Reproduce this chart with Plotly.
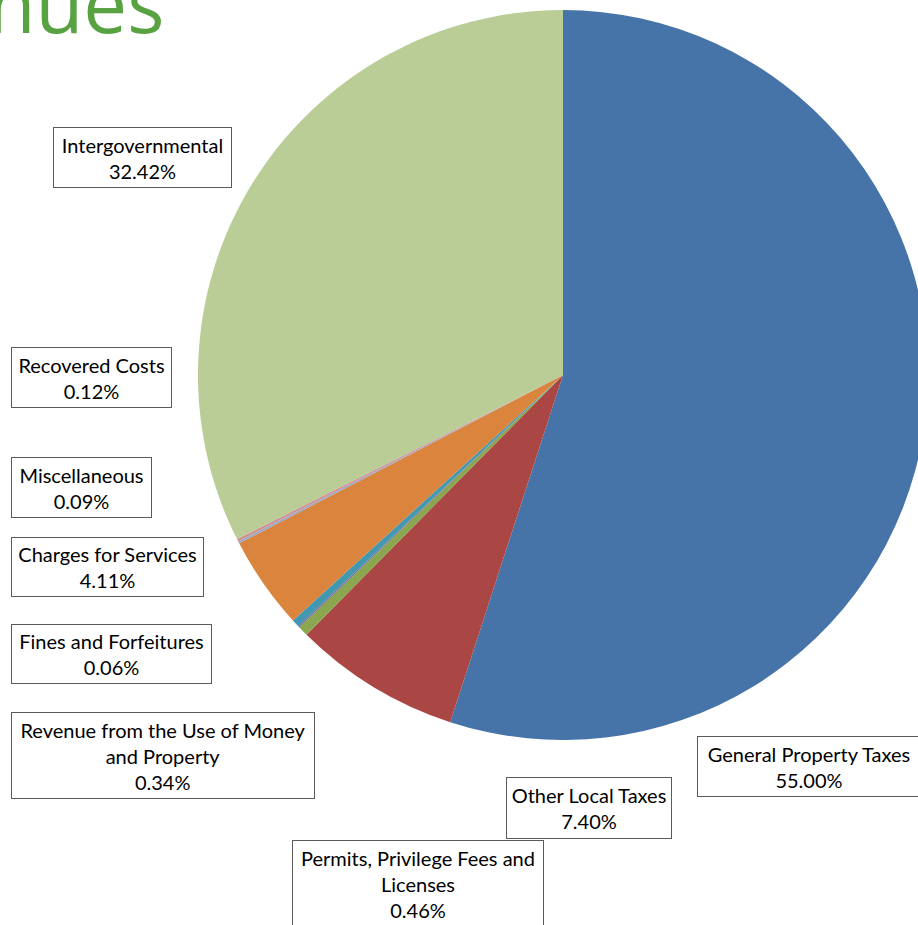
import plotly.graph_objects as go

# ---- data ----
categories = [
    "General Property Taxes",
    "Other Local Taxes",
    "Permits, Privilege Fees and Licenses",
    "Fines and Forfeitures",
    "Revenue from the Use of Money and Property",
    "Charges for Services",
    "Miscellaneous",
    "Recovered Costs",
    "Intergovernmental",
]
shares = [55.00, 7.40, 0.46, 0.06, 0.34, 4.11, 0.09, 0.12, 32.42]
label_lines = [
    "General Property Taxes",
    "Other Local Taxes",
    "Permits, Privilege Fees and<br>Licenses",
    "Fines and Forfeitures",
    "Revenue from the Use of Money<br>and Property",
    "Charges for Services",
    "Miscellaneous",
    "Recovered Costs",
    "Intergovernmental",
]
title_text = "Revenues"

# ---- styling / layout ----
colors = ["#4674A9", "#AA4644", "#8AA64F", "#7D60A0", "#4198AF",
          "#DB843D", "#93A9CF", "#D19392", "#BACD96"]
W, H = 940, 925
# label box centre (px) and outer size (px), same order as categories
boxes = [
    (809, 766.5, 224, 61),
    (589, 808, 166, 62),
    (418, 883.5, 252, 87),
    (111.5, 654, 201, 60),
    (163, 755.5, 304, 87),
    (107.5, 567, 193, 60),
    (81.5, 487.5, 141, 61),
    (91.5, 377.5, 161, 61),
    (142.5, 157.5, 179, 61),
]

fig = go.Figure(go.Pie(
    labels=categories,
    values=shares,
    sort=False,
    direction="clockwise",
    rotation=0,
    marker=dict(colors=colors, line=dict(width=0)),
    textinfo="none",
    hoverinfo="label+percent",
    showlegend=False,
    domain=dict(x=[198 / W, 928 / W], y=[1 - 740 / H, 1 - 10 / H]),
))

annotations = []
for name, v, (cx, cy, bw, bh) in zip(label_lines, shares, boxes):
    annotations.append(dict(
        text=f"{name}<br>{v:.2f}%",
        xref="paper", yref="paper",
        x=cx / W, y=1 - cy / H,
        xanchor="center", yanchor="middle",
        showarrow=False,
        width=bw - 2, height=bh - 2,
        align="center", valign="middle",
        bordercolor="#5A5A5A", borderwidth=1, borderpad=0,
        bgcolor="white",
        font=dict(family="Lato, sans-serif", size=20, color="black"),
    ))

annotations.append(dict(
    text=title_text,
    xref="paper", yref="paper",
    x=166 / W, y=1 - 58 / H,
    xanchor="right", yanchor="bottom",
    showarrow=False,
    font=dict(family="Open Sans, sans-serif", size=78, color="#58A242"),
))

fig.update_layout(
    width=W, height=H,
    margin=dict(l=0, r=0, t=0, b=0),
    paper_bgcolor="white",
    plot_bgcolor="white",
    annotations=annotations,
)

fig.write_html(
    "out.html",
    post_script="document.body.style.overflow='hidden';document.documentElement.style.overflow='hidden';document.body.style.margin='0';",
)
